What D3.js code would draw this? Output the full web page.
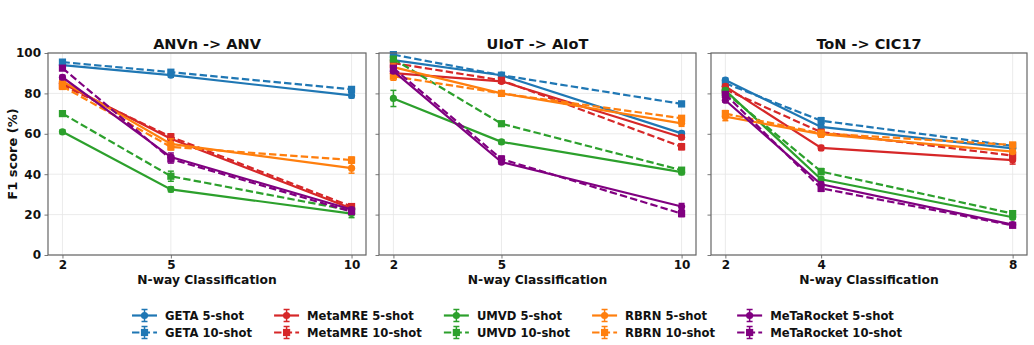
<!DOCTYPE html>
<html>
<head>
<meta charset="utf-8">
<script src="https://cdn.jsdelivr.net/npm/d3@7"></script>
<style>
  body { margin: 0; background: #fff; }
  text { font-family: "DejaVu Sans", sans-serif; font-weight: bold; fill: #111; }
</style>
</head>
<body>
<div id="chart"></div>
<script>
// methods and panels
var methods = ["GETA", "MetaMRE", "UMVD", "RBRN", "MeTaRocket"];
var colors = ["#1f77b4", "#d62728", "#2ca02c", "#ff7f0e", "#800080"];
var panelTitles = ["ANVn -> ANV", "UIoT -> AIoT", "ToN -> CIC17"];
var nWays = [[2, 5, 10], [2, 5, 10], [2, 4, 8]];
var yTicks = [0, 20, 40, 60, 80, 100];

// F1 (%) per method, rows follow `methods`
var anv5 = [[94, 89, 79], [85, 57.5, 23], [61, 32.5, 20.5], [86, 55, 43], [88, 48.5, 22.5]];
var anv10 = [[95.5, 90.5, 82], [84, 58.5, 24], [70, 39, 22], [83.5, 53.5, 47], [92.5, 47.5, 21.5]];
var aiot5 = [[96.5, 89, 60.2], [90, 86, 58.3], [77.5, 56, 41], [93, 80, 65.2], [91, 46, 24]];
var aiot10 = [[99.2, 89, 74.8], [95, 86.5, 53.6], [97, 65, 42], [88.5, 80, 67.7], [92.5, 47.5, 20.5]];
var cic5 = [[86.6, 63.4, 52.8], [83.5, 53, 47], [81.5, 37.5, 18.7], [68.5, 59.8, 51.2], [76.6, 35, 15]];
var cic10 = [[85, 66.5, 54], [82, 60.8, 49.2], [80.5, 41.3, 20.5], [70, 60.2, 54.5], [79.5, 33, 14.7]];

// std errors
var anv5Err = [[1, 1, 1.2], [1, 1.2, 1], [1, 1.2, 2], [1, 2.5, 2.5], [1, 2, 1]];
var anv10Err = [[0.8, 1, 1], [1, 1.5, 1], [1, 2.5, 1], [1.5, 1.5, 1.5], [1, 2, 1]];
var aiot5Err = [[1, 1, 1], [1, 1, 1], [4, 1, 1.2], [1.5, 1, 1.5], [1, 1, 1.5]];
var aiot10Err = [[1, 1, 1.2], [1, 1, 1.5], [1, 1, 1], [2, 1, 1], [1, 1.5, 1.5]];
var cic5Err = [[1, 1.2, 1], [1, 1.2, 2], [1, 1, 1], [2, 1.5, 1], [1, 1, 1]];
var cic10Err = [[1, 1.5, 1], [1, 1, 1], [1, 1.5, 1.2], [1.5, 1.5, 1], [1, 1.5, 1]];

var shot5 = [anv5, aiot5, cic5];
var shot10 = [anv10, aiot10, cic10];
var shot5Err = [anv5Err, aiot5Err, cic5Err];
var shot10Err = [anv10Err, aiot10Err, cic10Err];

var width = 1034, height = 345;
var panelX = [[48, 366], [379, 696], [711, 1027]];
var plotTop = 53, plotBottom = 255;

var svg = d3.select("#chart").append("svg")
    .attr("width", width)
    .attr("height", height);

var y = d3.scaleLinear().domain([0, 100]).range([plotBottom, plotTop]);

panelX.forEach(function(px, p) {
    var xs = nWays[p];
    var pad = (xs[2] - xs[0]) * 0.05;
    var x = d3.scaleLinear().domain([xs[0] - pad, xs[2] + pad]).range(px);
    var g = svg.append("g");

    // grid
    g.selectAll(".gy").data(yTicks).enter().append("line")
        .attr("x1", px[0]).attr("x2", px[1])
        .attr("y1", function(d) { return y(d); }).attr("y2", function(d) { return y(d); })
        .attr("stroke", "#e6e6e6").attr("stroke-width", 0.8);
    g.selectAll(".gx").data(xs).enter().append("line")
        .attr("y1", plotTop).attr("y2", plotBottom)
        .attr("x1", function(d) { return x(d); }).attr("x2", function(d) { return x(d); })
        .attr("stroke", "#e6e6e6").attr("stroke-width", 0.8);

    // series
    var series = [];
    methods.forEach(function(m, i) {
        series.push({c: colors[i], v: shot5[p][i], e: shot5Err[p][i], dash: false});
        series.push({c: colors[i], v: shot10[p][i], e: shot10Err[p][i], dash: true});
    });

    var line = d3.line()
        .x(function(d, i) { return x(xs[i]); })
        .y(function(d) { return y(d); });

    series.forEach(function(s) {
        var sg = g.append("g");
        sg.append("path")
            .attr("d", line(s.v))
            .attr("fill", "none")
            .attr("stroke", s.c)
            .attr("stroke-width", 2.2)
            .attr("stroke-dasharray", s.dash ? "7.4,3.2" : null);
        s.v.forEach(function(v, i) {
            var cx = x(xs[i]);
            var e = s.e[i];
            sg.append("line").attr("x1", cx).attr("x2", cx)
                .attr("y1", y(v - e)).attr("y2", y(v + e))
                .attr("stroke", s.c).attr("stroke-width", 1.5);
            [v - e, v + e].forEach(function(t) {
                sg.append("line").attr("x1", cx - 3).attr("x2", cx + 3)
                    .attr("y1", y(t)).attr("y2", y(t))
                    .attr("stroke", s.c).attr("stroke-width", 1.5);
            });
            if (s.dash) {
                sg.append("rect").attr("x", cx - 3.6).attr("y", y(v) - 3.6)
                    .attr("width", 7.2).attr("height", 7.2).attr("fill", s.c);
            } else {
                sg.append("circle").attr("cx", cx).attr("cy", y(v)).attr("r", 3.6)
                    .attr("fill", s.c);
            }
        });
    });

    // axes
    var xAxis = g.append("g")
        .attr("transform", "translate(0," + plotBottom + ")")
        .call(d3.axisBottom(x).tickValues(xs).tickSize(3.5).tickPadding(2)
            .tickFormat(d3.format("d")));
    var yAxis = g.append("g")
        .attr("transform", "translate(" + px[0] + ",0)")
        .call(d3.axisLeft(y).tickValues(yTicks).tickSize(3.5).tickPadding(3.5)
            .tickFormat(p === 0 ? d3.format("d") : ""));
    [xAxis, yAxis].forEach(function(a) {
        a.select(".domain").remove();
        a.selectAll(".tick line").attr("stroke", "#555").attr("stroke-width", 0.8);
        a.selectAll(".tick text").style("font-size", "12px").style("font-family", "DejaVu Sans")
            .style("font-weight", "bold").attr("fill", "#111");
    });

    g.append("rect")
        .attr("x", px[0]).attr("y", plotTop)
        .attr("width", px[1] - px[0]).attr("height", plotBottom - plotTop)
        .attr("fill", "none").attr("stroke", "#666").attr("stroke-width", 1.2);

    g.append("text")
        .attr("x", (px[0] + px[1]) / 2).attr("y", 49)
        .attr("text-anchor", "middle")
        .style("font-size", "14.5px")
        .text(panelTitles[p]);

    g.append("text")
        .attr("x", (px[0] + px[1]) / 2).attr("y", 284)
        .attr("text-anchor", "middle")
        .style("font-size", "12.3px")
        .text("N-way Classification");
});

svg.append("text")
    .attr("transform", "translate(17," + ((plotTop + plotBottom) / 2) + ") rotate(-90)")
    .attr("text-anchor", "middle")
    .style("font-size", "13px")
    .text("F1 score (%)");

// legend, 5 columns x 2 rows, centred
var legend = svg.append("g");
var entries = [];
methods.forEach(function(m, i) {
    entries.push({label: m + " 5-shot", c: colors[i], dash: false, col: i, row: 0});
    entries.push({label: m + " 10-shot", c: colors[i], dash: true, col: i, row: 1});
});
var legendFont = "11.6px";
var handleW = 25, textPad = 8, colSpace = 22;
var colW = [];
entries.forEach(function(d) {
    var t = legend.append("text").style("font-size", legendFont).text(d.label);
    var w = t.node().getComputedTextLength();
    t.remove();
    colW[d.col] = Math.max(colW[d.col] || 0, w);
});
var total = d3.sum(colW) + methods.length * (handleW + textPad) + (methods.length - 1) * colSpace;
var colX = [];
var cur = 517 - total / 2;
colW.forEach(function(w, i) { colX[i] = cur; cur += handleW + textPad + w + colSpace; });

entries.forEach(function(d) {
    var lx = colX[d.col], ly = 315.5 + d.row * 17;
    var lg = legend.append("g");
    lg.append("line").attr("x1", lx).attr("x2", lx + handleW).attr("y1", ly).attr("y2", ly)
        .attr("stroke", d.c).attr("stroke-width", 2.2)
        .attr("stroke-dasharray", d.dash ? "7.4,3.2" : null);
    var cx = lx + handleW / 2;
    lg.append("line").attr("x1", cx).attr("x2", cx).attr("y1", ly - 6).attr("y2", ly + 6)
        .attr("stroke", d.c).attr("stroke-width", 1.5);
    [ly - 6, ly + 6].forEach(function(t) {
        lg.append("line").attr("x1", cx - 3).attr("x2", cx + 3).attr("y1", t).attr("y2", t)
            .attr("stroke", d.c).attr("stroke-width", 1.5);
    });
    if (d.dash) {
        lg.append("rect").attr("x", cx - 3.6).attr("y", ly - 3.6).attr("width", 7.2).attr("height", 7.2)
            .attr("fill", d.c);
    } else {
        lg.append("circle").attr("cx", cx).attr("cy", ly).attr("r", 3.6).attr("fill", d.c);
    }
    lg.append("text").attr("x", lx + handleW + textPad).attr("y", ly + 4.3)
        .style("font-size", legendFont).text(d.label);
});
</script>
</body>
</html>
